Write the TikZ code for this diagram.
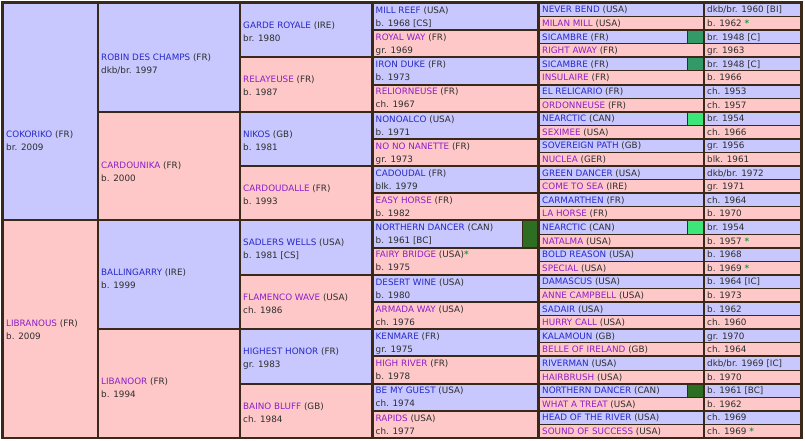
\documentclass[tikz,border=0pt]{standalone}
\usepackage{fontspec}
\setmainfont{DejaVu Sans}
\definecolor{rulebrown}{RGB}{58,40,24}
\definecolor{sirebg}{RGB}{200,200,255}
\definecolor{dambg}{RGB}{255,200,200}
\definecolor{sirename}{RGB}{40,40,200}
\definecolor{damname}{RGB}{140,30,200}
\definecolor{inkgray}{RGB}{45,45,45}
\definecolor{stargreen}{RGB}{34,153,68}
\definecolor{sicgreen}{RGB}{51,153,102}
\definecolor{nearcgreen}{RGB}{60,230,120}
\definecolor{ndgreen}{RGB}{46,110,34}
\tikzstyle{rl}=[fill=rulebrown]
\tikzstyle{sire}=[fill=sirebg]
\tikzstyle{dam}=[fill=dambg]
\tikzstyle{txt}=[anchor=base west, inner sep=0pt, text=inkgray, font=\fontsize{8.8}{13}\selectfont]
\newcommand{\sn}[1]{\textcolor{sirename}{#1}}
\newcommand{\dn}[1]{\textcolor{damname}{#1}}
\newcommand{\st}{\textcolor{stargreen}{\textbf{*}}}
%% two-line cell: id, style, x1, x2, first row, rows, text drop, name, date
\newcommand{\horse}[9]{%
\fill[#2] (#3,{438-(#5)*13.594-1}) rectangle (#4,{438-(#5+#6)*13.594+1});
\node[txt] (#1) at ({#3+2},{438-(#5+#6/2)*13.594+3.3-#7}) {#8};
\node[txt] (#1-d) at ({#3+2},{438-(#5+#6/2)*13.594-9.7-#7}) {#9};}
%% one-line rows of the last generation: row, name, date
\newcommand{\sirerow}[3]{%
\fill[sire] (539.5,{438-(#1)*13.594-1}) rectangle (702.5,{438-(#1+1)*13.594+0.5});
\fill[sire] (705,{438-(#1)*13.594-1}) rectangle (800,{438-(#1+1)*13.594+0.5});
\node[txt] (n#1) at (542,{438-(#1+0.5)*13.594-3.2}) {#2};
\node[txt] (d#1) at (707,{438-(#1+0.5)*13.594-3.2}) {#3};}
\newcommand{\damrow}[3]{%
\fill[dam] (539.5,{438-(#1)*13.594-0.5}) rectangle (702.5,{438-(#1+1)*13.594+1});
\fill[dam] (705,{438-(#1)*13.594-0.5}) rectangle (800,{438-(#1+1)*13.594+1});
\node[txt] (n#1) at (542,{438-(#1+0.5)*13.594-3.2}) {#2};
\node[txt] (d#1) at (707,{438-(#1+0.5)*13.594-3.2}) {#3};}
%% coloured tag: colour, x1, x2, first row, rows, bottom inset
\newcommand{\greentag}[6]{%
\fill[#1] (#2,{438-(#4)*13.594-1}) rectangle (#3,{438-(#4+#5)*13.594+#6});
\fill[rl] ({#2-1},{438-(#4)*13.594-1}) rectangle (#2,{438-(#4+#5)*13.594+#6});}

\begin{document}
\begin{tikzpicture}[x=1pt, y=1pt]
%%frame
\useasboundingbox (0,0) rectangle (805,441);
\fill[white] (0,0) rectangle (805,441);
\fill[rl] (1,2) rectangle (803,440);
%%first generation
\horse{cokoriko}{sire}{4}{96.5}{0}{16}{29}{\sn{COKORIKO} (FR)}{br. 2009}
\horse{libranous}{dam}{4}{96.5}{16}{16}{1}{\dn{LIBRANOUS} (FR)}{b. 2009}
%%second generation
\horse{robin}{sire}{99}{238.5}{0}{8}{6}{\sn{ROBIN DES CHAMPS} (FR)}{dkb/br. 1997}
\horse{cardounika}{dam}{99}{238.5}{8}{8}{6}{\dn{CARDOUNIKA} (FR)}{b. 2000}
\horse{ballingarry}{sire}{99}{238.5}{16}{8}{4}{\sn{BALLINGARRY} (IRE)}{b. 1999}
\horse{libanoor}{dam}{99}{238.5}{24}{8}{4}{\dn{LIBANOOR} (FR)}{b. 1994}
%%third generation
\horse{garde}{sire}{241}{371}{0}{4}{1.5}{\sn{GARDE ROYALE} (IRE)}{br. 1980}
\horse{relayeuse}{dam}{241}{371}{4}{4}{1.5}{\dn{RELAYEUSE} (FR)}{b. 1987}
\horse{nikos}{sire}{241}{371}{8}{4}{1.5}{\sn{NIKOS} (GB)}{b. 1981}
\horse{cardoudalle}{dam}{241}{371}{12}{4}{1.5}{\dn{CARDOUDALLE} (FR)}{b. 1993}
\horse{sadlers}{sire}{241}{371}{16}{4}{1.5}{\sn{SADLERS WELLS} (USA)}{b. 1981 [CS]}
\horse{flamenco}{dam}{241}{371}{20}{4}{1.5}{\dn{FLAMENCO WAVE} (USA)}{ch. 1986}
\horse{highest}{sire}{241}{371}{24}{4}{1.5}{\sn{HIGHEST HONOR} (FR)}{gr. 1983}
\horse{baino}{dam}{241}{371}{28}{4}{1.5}{\dn{BAINO BLUFF} (GB)}{ch. 1984}
%%fourth generation
\horse{millreef}{sire}{373.5}{536.5}{0}{2}{0}{\sn{MILL REEF} (USA)}{b. 1968 [CS]}
\horse{royalway}{dam}{373.5}{536.5}{2}{2}{0}{\dn{ROYAL WAY} (FR)}{gr. 1969}
\horse{ironduke}{sire}{373.5}{536.5}{4}{2}{0}{\sn{IRON DUKE} (FR)}{b. 1973}
\horse{reliorneuse}{dam}{373.5}{536.5}{6}{2}{0}{\dn{RELIORNEUSE} (FR)}{ch. 1967}
\horse{nonoalco}{sire}{373.5}{536.5}{8}{2}{0}{\sn{NONOALCO} (USA)}{b. 1971}
\horse{nonanette}{dam}{373.5}{536.5}{10}{2}{0}{\dn{NO NO NANETTE} (FR)}{gr. 1973}
\horse{cadoudal}{sire}{373.5}{536.5}{12}{2}{0}{\sn{CADOUDAL} (FR)}{blk. 1979}
\horse{easyhorse}{dam}{373.5}{536.5}{14}{2}{0}{\dn{EASY HORSE} (FR)}{b. 1982}
\horse{northern}{sire}{373.5}{536.5}{16}{2}{0}{\sn{NORTHERN DANCER} (CAN)}{b. 1961 [BC]}
\horse{fairy}{dam}{373.5}{536.5}{18}{2}{0}{\dn{FAIRY BRIDGE} (USA)\st}{b. 1975}
\horse{desert}{sire}{373.5}{536.5}{20}{2}{0}{\sn{DESERT WINE} (USA)}{b. 1980}
\horse{armada}{dam}{373.5}{536.5}{22}{2}{0}{\dn{ARMADA WAY} (USA)}{ch. 1976}
\horse{kenmare}{sire}{373.5}{536.5}{24}{2}{0}{\sn{KENMARE} (FR)}{gr. 1975}
\horse{highriver}{dam}{373.5}{536.5}{26}{2}{0}{\dn{HIGH RIVER} (FR)}{b. 1978}
\horse{bemyguest}{sire}{373.5}{536.5}{28}{2}{0}{\sn{BE MY GUEST} (USA)}{ch. 1974}
\horse{rapids}{dam}{373.5}{536.5}{30}{2}{0}{\dn{RAPIDS} (USA)}{ch. 1977}
\greentag{ndgreen}{522.5}{536.5}{16}{2}{1}
%%fifth generation
\sirerow{0}{\sn{NEVER BEND} (USA)}{dkb/br. 1960 [BI]}
\damrow{1}{\dn{MILAN MILL} (USA)}{b. 1962 \st}
\sirerow{2}{\sn{SICAMBRE} (FR)}{br. 1948 [C]}
\damrow{3}{\dn{RIGHT AWAY} (FR)}{gr. 1963}
\sirerow{4}{\sn{SICAMBRE} (FR)}{br. 1948 [C]}
\damrow{5}{\dn{INSULAIRE} (FR)}{b. 1966}
\sirerow{6}{\sn{EL RELICARIO} (FR)}{ch. 1953}
\damrow{7}{\dn{ORDONNEUSE} (FR)}{ch. 1957}
\sirerow{8}{\sn{NEARCTIC} (CAN)}{br. 1954}
\damrow{9}{\dn{SEXIMEE} (USA)}{ch. 1966}
\sirerow{10}{\sn{SOVEREIGN PATH} (GB)}{gr. 1956}
\damrow{11}{\dn{NUCLEA} (GER)}{blk. 1961}
\sirerow{12}{\sn{GREEN DANCER} (USA)}{dkb/br. 1972}
\damrow{13}{\dn{COME TO SEA} (IRE)}{gr. 1971}
\sirerow{14}{\sn{CARMARTHEN} (FR)}{ch. 1964}
\damrow{15}{\dn{LA HORSE} (FR)}{b. 1970}
\sirerow{16}{\sn{NEARCTIC} (CAN)}{br. 1954}
\damrow{17}{\dn{NATALMA} (USA)}{b. 1957 \st}
\sirerow{18}{\sn{BOLD REASON} (USA)}{b. 1968}
\damrow{19}{\dn{SPECIAL} (USA)}{b. 1969 \st}
\sirerow{20}{\sn{DAMASCUS} (USA)}{b. 1964 [IC]}
\damrow{21}{\dn{ANNE CAMPBELL} (USA)}{b. 1973}
\sirerow{22}{\sn{SADAIR} (USA)}{b. 1962}
\damrow{23}{\dn{HURRY CALL} (USA)}{ch. 1960}
\sirerow{24}{\sn{KALAMOUN} (GB)}{gr. 1970}
\damrow{25}{\dn{BELLE OF IRELAND} (GB)}{ch. 1964}
\sirerow{26}{\sn{RIVERMAN} (USA)}{dkb/br. 1969 [IC]}
\damrow{27}{\dn{HAIRBRUSH} (USA)}{b. 1970}
\sirerow{28}{\sn{NORTHERN DANCER} (CAN)}{b. 1961 [BC]}
\damrow{29}{\dn{WHAT A TREAT} (USA)}{b. 1962}
\sirerow{30}{\sn{HEAD OF THE RIVER} (USA)}{ch. 1969}
\damrow{31}{\dn{SOUND OF SUCCESS} (USA)}{ch. 1969 \st}
%%tags
\greentag{sicgreen}{688}{702.5}{2}{1}{0.5}
\greentag{sicgreen}{688}{702.5}{4}{1}{0.5}
\greentag{nearcgreen}{688}{702.5}{8}{1}{0.5}
\greentag{nearcgreen}{688}{702.5}{16}{1}{0.5}
\greentag{ndgreen}{688}{702.5}{28}{1}{0.5}
\end{tikzpicture}
\end{document}
